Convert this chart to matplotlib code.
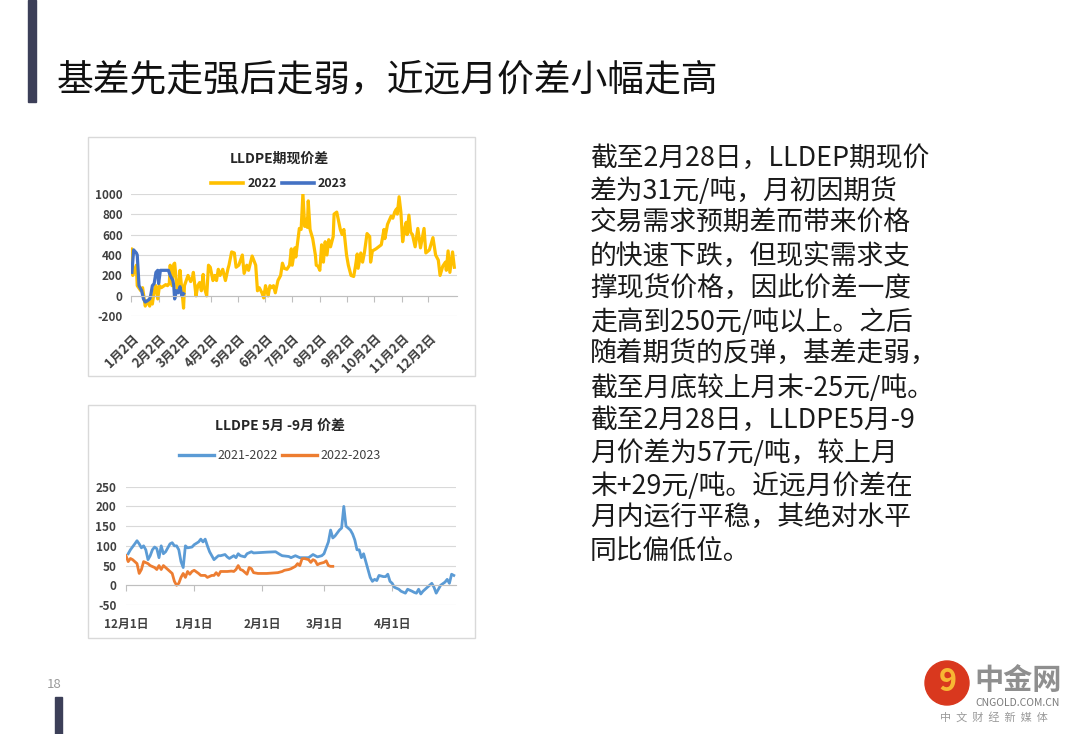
import matplotlib
matplotlib.use('Agg')
import matplotlib.pyplot as plt
from matplotlib.patches import Rectangle, Ellipse
from matplotlib.lines import Line2D

plt.rcParams['font.family'] = ['Noto Sans CJK SC', 'DejaVu Sans']
plt.rcParams['axes.unicode_minus'] = False

# ---- data: LLDPE basis (days counted from Jan 2) ----
days_2022 = [0, 1, 2, 6, 7, 11, 13, 16, 18, 21, 22, 24, 26, 28, 30, 32, 34, 39, 41, 43,
             44, 46, 48, 49, 52, 54, 55, 59, 60, 62, 64, 67, 69, 70, 73, 75, 77, 79, 81, 82,
             85, 87, 89, 92, 94, 96, 98, 100, 103, 106, 109, 110, 113, 116, 118, 121, 123, 125, 127, 130,
             132, 136, 140, 142, 144, 147, 149, 151, 154, 156, 158, 160, 162, 165, 168, 170, 172, 175, 178, 180,
             181, 184, 185, 187, 189, 191, 193, 195, 197, 198, 199, 201, 204, 207, 208, 210, 212, 214, 216, 218,
             220, 222, 224, 227, 228, 231, 235, 237, 239, 242, 244, 247, 250, 252, 254, 255, 258, 260, 262, 265,
             268, 269, 271, 275, 281, 284, 285, 288, 290, 292, 294, 296, 298, 299, 301, 303, 305, 307, 309, 310,
             312, 314, 316, 319, 322, 325, 329, 331, 335, 339, 342, 345, 347, 350, 353, 354, 356, 358, 361, 363]
basis_2022 = [220, 460, 200, 300, 100, 50, 80, -100, -50, -100, 0, -80, 50, 100, -30, 100, 80, 110, 100, 120,
              300, 100, 310, 320, 50, 100, 250, -120, 100, 150, 200, 140, 180, 230, 0, 100, 130, 50, 210, 90,
              0, 300, 280, 150, 200, 150, 260, 200, 260, 150, 270, 300, 430, 420, 280, 300, 350, 400, 220, 300,
              250, 390, 300, 50, 80, 30, -20, 100, 0, 100, 80, 100, 30, 150, 200, 320, 270, 260, 300, 460,
              300, 470, 380, 520, 660, 650, 1000, 680, 750, 670, 930, 650, 560, 400, 300, 290, 250, 500, 330, 530,
              400, 550, 480, 580, 800, 820, 650, 600, 650, 400, 300, 200, 190, 290, 410, 270, 420, 330, 420, 610,
              580, 330, 440, 460, 500, 650, 560, 700, 740, 780, 760, 820, 850, 800, 970, 820, 530, 650, 720, 600,
              790, 620, 600, 480, 660, 470, 660, 420, 450, 570, 400, 350, 200, 290, 330, 250, 440, 230, 430, 280]
days_2023 = [1, 3, 6, 7, 9, 12, 14, 16, 18, 21, 22, 24, 26, 28, 30, 31, 33, 39, 42, 44,
             47, 48, 49, 51, 53, 55, 57, 59]
basis_2023 = [230, 450, 420, 400, 100, 50, -30, -60, -50, -30, 0, 100, 120, 230, 250, 120, 250, 250, 250, 200,
              150, 100, -30, 50, 30, 90, 0, 20]
basis_ticks = [0, 31, 59, 90, 120, 151, 181, 212, 243, 273, 304, 334]
basis_labels = ['1月2日', '2月2日', '3月2日', '4月2日', '5月2日', '6月2日',
                '7月2日', '8月2日', '9月2日', '10月2日', '11月2日', '12月2日']

# ---- data: LLDPE May-Sep spread (days counted from Dec 1) ----
days_2122 = [1, 2, 4, 5, 6, 7, 8, 9, 10, 11, 12, 13, 14, 15, 16, 17, 18, 19, 20, 21,
             22, 23, 24, 25, 26, 27, 28, 30, 31, 33, 34, 35, 36, 37, 38, 40, 42, 43, 45, 46,
             47, 49, 50, 51, 52, 54, 55, 57, 58, 61, 64, 68, 70, 71, 74, 75, 77, 79, 83, 85,
             87, 89, 90, 91, 92, 93, 94, 95, 97, 98, 99, 100, 101, 102, 103, 104, 105, 106, 107, 108,
             109, 110, 111, 112, 113, 114, 115, 117, 118, 119, 120, 121, 122, 124, 125, 127, 128, 130, 131, 132,
             133, 134, 135, 137, 138, 139, 140, 141, 142, 143, 145, 146, 147, 148, 149]
spread_2122 = [80, 90, 105, 113, 105, 95, 100, 90, 65, 75, 90, 97, 93, 70, 100, 80, 85, 95, 105, 108,
               100, 100, 90, 60, 45, 100, 95, 97, 103, 110, 117, 110, 117, 100, 85, 65, 75, 75, 78, 72,
               68, 75, 70, 80, 75, 72, 80, 85, 82, 83, 84, 85, 78, 75, 73, 70, 75, 70, 70, 78,
               72, 75, 80, 95, 110, 140, 120, 125, 140, 145, 200, 150, 145, 140, 130, 115, 90, 90, 70, 80,
               60, 40, 20, 10, 15, 12, 25, 22, 22, 28, 10, 5, -5, -10, -15, -20, -10, -15, -18, -20,
               -10, -22, -15, -5, 0, 5, -5, -20, -10, 0, 8, 15, 5, 28, 25]
days_2223 = [0, 1, 2, 3, 4, 5, 6, 7, 8, 10, 11, 13, 14, 15, 16, 17, 18, 19, 20, 21,
             22, 23, 24, 25, 26, 27, 28, 29, 30, 31, 33, 34, 36, 37, 39, 40, 41, 42, 43, 45,
             46, 48, 49, 50, 51, 52, 53, 54, 55, 56, 57, 58, 60, 64, 69, 71, 72, 74, 75, 77,
             78, 79, 80, 81, 83, 84, 85, 86, 87, 88, 90, 91, 92, 93, 94]
spread_2223 = [75, 60, 68, 65, 60, 55, 30, 40, 60, 55, 50, 45, 40, 50, 40, 50, 45, 40, 35, 30,
               10, 0, 5, 20, 30, 20, 35, 28, 35, 38, 30, 25, 25, 20, 25, 25, 32, 25, 35, 35,
               35, 36, 35, 40, 50, 40, 38, 33, 28, 45, 42, 32, 30, 30, 32, 35, 38, 40, 42, 48,
               55, 50, 67, 68, 65, 58, 65, 62, 52, 55, 58, 62, 50, 48, 48]
spread_ticks = [0, 31, 62, 90, 121]
spread_labels = ['12月1日', '1月1日', '2月1日', '3月1日', '4月1日']

title = '基差先走强后走弱，近远月价差小幅走高'
body_lines = [
    '截至2月28日，LLDEP期现价',
    '差为31元/吨，月初因期货',
    '交易需求预期差而带来价格',
    '的快速下跌，但现实需求支',
    '撑现货价格，因此价差一度',
    '走高到250元/吨以上。之后',
    '随着期货的反弹，基差走弱，',
    '截至月底较上月末-25元/吨。',
    '截至2月28日，LLDPE5月-9',
    '月价差为57元/吨，较上月',
    '末+29元/吨。近远月价差在',
    '月内运行平稳，其绝对水平',
    '同比偏低位。',
]

W, H = 1080, 734
fig = plt.figure(figsize=(W / 100, H / 100), dpi=100)


def fx(x):
    return x / W


def fy(y):
    return 1 - y / H


def box(x0, y0, x1, y1):
    return [fx(x0), fy(y1), fx(x1) - fx(x0), fy(y0) - fy(y1)]


# slide decorations
fig.patches.append(Rectangle((fx(28), fy(102)), fx(8), fy(0) - fy(102),
                             transform=fig.transFigure, color='#3C3F58', zorder=-1))
fig.patches.append(Rectangle((fx(55), fy(734)), fx(7), fy(697) - fy(734),
                             transform=fig.transFigure, color='#3C3F58', zorder=-1))
fig.text(fx(57), fy(80), title, fontsize=26.5, va='center', ha='left', color='#111111',
         fontweight='light')
fig.text(fx(54), fy(685), '18', fontsize=9.5, ha='center', va='center', color='#9a9a9a')

for i, line in enumerate(body_lines):
    fig.text(fx(590), fy(158 + 32.8 * i), line, fontsize=19.3, ha='left', va='center', color='#1a1a1a',
             fontweight='light')

# chart frames
for b in [(88, 137, 475, 376), (88, 405, 475, 638)]:
    fig.patches.append(Rectangle((fx(b[0]), fy(b[3])), fx(b[2] - b[0]), fy(b[1]) - fy(b[3]),
                                 transform=fig.transFigure, facecolor='none',
                                 edgecolor='#D9D9D9', lw=1.0, zorder=-1))

grid_c = '#D9D9D9'
txt_c = '#404040'

# ---- chart 1: basis ----
ax1 = fig.add_axes(box(131, 193.7, 457, 316.3))
ax1.patch.set_alpha(0)
ax1.plot(days_2022, basis_2022, color='#FFC000', lw=2.3, solid_joinstyle='round')
ax1.plot(days_2023, basis_2023, color='#4472C4', lw=2.3, solid_joinstyle='round')
ax1.set_xlim(0, 366)
ax1.set_ylim(-200, 1000)
ax1.set_yticks(range(-200, 1001, 200))
ax1.grid(axis='y', color=grid_c, lw=0.8)
ax1.set_axisbelow(True)
for s in ['top', 'right', 'left']:
    ax1.spines[s].set_visible(False)
ax1.spines['bottom'].set_position(('data', 0))
ax1.spines['bottom'].set_color('#BFBFBF')
ax1.set_xticks(basis_ticks)
ax1.tick_params(axis='x', length=4, color='#BFBFBF', labelbottom=False)
ax1.tick_params(axis='y', length=0, pad=6, labelsize=8.5, labelcolor=txt_c)
for t in ax1.get_yticklabels():
    t.set_fontweight('bold')
sec1 = ax1.secondary_xaxis('bottom')
sec1.set_xticks(basis_ticks, basis_labels)
sec1.tick_params(length=0, pad=11, labelsize=9.3, labelcolor=txt_c)
sec1.spines['bottom'].set_visible(False)
for t in sec1.get_xticklabels():
    t.set_rotation(45)
    t.set_ha('right')
    t.set_va('top')
    t.set_rotation_mode('anchor')
    t.set_fontweight('bold')

fig.text(fx(279.5), fy(158.5), 'LLDPE期现价差', fontsize=10, fontweight='bold',
         ha='center', va='center', color='#262626')
h1 = [Line2D([], [], color='#FFC000', lw=2.6), Line2D([], [], color='#4472C4', lw=2.6)]
fig.legend(h1, ['2022', '2023'], loc='center', bbox_to_anchor=(fx(279), fy(183.7)), ncol=2,
           frameon=False, handlelength=2.6, handletextpad=0.3, columnspacing=0.4,
           labelcolor='#262626', prop={'weight': 'bold', 'size': 9})

# ---- chart 2: May-Sep spread ----
ax2 = fig.add_axes(box(126, 486.7, 456, 605))
ax2.patch.set_alpha(0)
ax2.plot(days_2122, spread_2122, color='#5B9BD5', lw=2.0, solid_joinstyle='round')
ax2.plot(days_2223, spread_2223, color='#ED7D31', lw=2.0, solid_joinstyle='round')
ax2.set_xlim(0, 150)
ax2.set_ylim(-50, 250)
ax2.set_yticks(range(-50, 251, 50))
ax2.grid(axis='y', color=grid_c, lw=0.8)
ax2.set_axisbelow(True)
for s in ['top', 'right', 'left']:
    ax2.spines[s].set_visible(False)
ax2.spines['bottom'].set_position(('data', 0))
ax2.spines['bottom'].set_color('#BFBFBF')
ax2.set_xticks(spread_ticks)
ax2.tick_params(axis='x', length=4, color='#BFBFBF', labelbottom=False)
ax2.tick_params(axis='y', length=0, pad=7, labelsize=8.5, labelcolor=txt_c)
for t in ax2.get_yticklabels():
    t.set_fontweight('bold')
sec2 = ax2.secondary_xaxis('bottom')
sec2.set_xticks(spread_ticks, spread_labels)
sec2.tick_params(length=0, pad=9, labelsize=8.5, labelcolor=txt_c)
sec2.spines['bottom'].set_visible(False)
for t in sec2.get_xticklabels():
    t.set_fontweight('bold')

fig.text(fx(279.5), fy(425.7), 'LLDPE 5月 -9月 价差', fontsize=10, fontweight='bold',
         ha='center', va='center', color='#262626')
h2 = [Line2D([], [], color='#5B9BD5', lw=2.4), Line2D([], [], color='#ED7D31', lw=2.4)]
fig.legend(h2, ['2021-2022', '2022-2023'], loc='center', bbox_to_anchor=(fx(280), fy(455.7)), ncol=2,
           frameon=False, fontsize=9, handlelength=2.8, handletextpad=0.3, columnspacing=0.3,
           labelcolor='#404040')

# ---- watermark logo ----
fig.patches.append(Ellipse((fx(947), fy(683)), 44 / W, 44 / H, transform=fig.transFigure,
                           color='#D9381E', zorder=1))
fig.text(fx(948), fy(682), '9', fontsize=22, fontweight='bold', color='#F7B733',
         ha='center', va='center')
fig.text(fx(1018), fy(680), '中金网', fontsize=21, fontweight='bold', color='#8f8f8f',
         ha='center', va='center')
fig.text(fx(1018), fy(702.5), 'CNGOLD.COM.CN', fontsize=7.5, color='#7a7a7a',
         ha='center', va='center')
fig.text(fx(994), fy(717), '中  文  财  经  新  媒  体', fontsize=8, color='#9a9a9a',
         ha='center', va='center')

fig.savefig('out.png', dpi=100)
